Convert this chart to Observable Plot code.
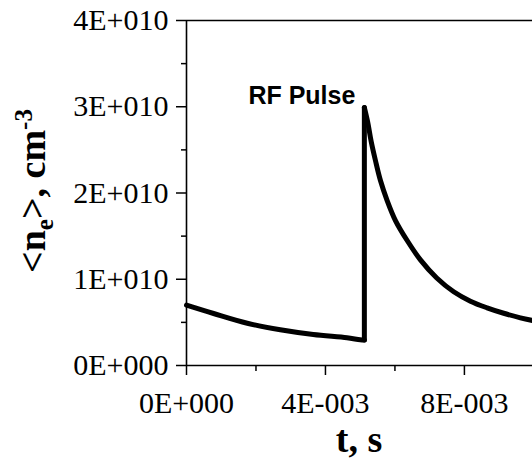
<!DOCTYPE html>
<html>
<head>
<meta charset="utf-8">
<script src="https://cdn.jsdelivr.net/npm/d3@7"></script>
<script src="https://cdn.jsdelivr.net/npm/@observablehq/plot@0.6"></script>
<style>
  html, body { margin: 0; padding: 0; background: #fff; }
</style>
</head>
<body>
<div id="chart"></div>
<script>
// ---- data ----
// before the RF pulse (t in s, <ne> in cm^-3)
const tPre = [0, 0.00078, 0.00175, 0.0027, 0.00365, 0.00462, 0.005, 0.00512];
const nPre = [7.0e9, 6.03e9, 4.9e9, 4.14e9, 3.59e9, 3.21e9, 2.98e9, 2.95e9];
// the jump at the RF pulse
const tJump = [0.00512, 0.00512];
const nJump = [2.95e9, 2.99e10];
// decay after the pulse
const tPost = [0.00512, 0.005217, 0.005315, 0.005439, 0.005583, 0.005776, 0.006015, 0.006352,
               0.006734, 0.007204, 0.007692, 0.008173, 0.008653, 0.009131, 0.009612, 0.009957];
const nPost = [2.99e10, 2.82e10, 2.60e10, 2.377e10, 2.145e10, 1.913e10, 1.681e10, 1.449e10,
               1.225e10, 1.015e10, 0.855e10, 0.746e10, 0.669e10, 0.606e10, 0.553e10, 0.522e10];

// axes
const xDomain = [0, 0.00996];
const yDomain = [0, 4e10];
const xTicks = [0, 0.004, 0.008];
const xTickLabels = ["0E+000", "4E-003", "8E-003"];
const xMinorTicks = [0.002, 0.006];
const yTicks = [0, 1e10, 2e10, 3e10, 4e10];
const yTickLabels = ["0E+000", "1E+010", "2E+010", "3E+010", "4E+010"];
const yMinorTicks = [0.5e10, 1.5e10, 2.5e10, 3.5e10];

const annotation = [{t: 0.00512, n: 2.99e10, label: "RF Pulse"}];

const toRows = (ts, ns) => ts.map((t, i) => ({t, n: ns[i]}));
const pre = toRows(tPre, nPre);
const jump = toRows(tJump, nJump);
const post = toRows(tPost, nPost);

const serif = "'Liberation Serif', 'Times New Roman', serif";

const chart = Plot.plot({
  width: 532,
  height: 459,
  marginLeft: 186,
  marginRight: 0,
  marginTop: 20,
  marginBottom: 94,
  style: {fontFamily: serif, fontSize: "30px", color: "#000", background: "#fff"},
  x: {domain: xDomain, axis: null},
  y: {domain: yDomain, axis: null},
  marks: [
    // frame: top and right
    Plot.ruleY([yDomain[1]], {stroke: "#000", strokeWidth: 1.3}),
    Plot.ruleX([xDomain[1]], {stroke: "#000", strokeWidth: 1}),
    // axis lines
    Plot.ruleX([0], {stroke: "#000", strokeWidth: 1.6}),
    Plot.ruleY([0], {stroke: "#000", strokeWidth: 1.6}),
    // major ticks + labels
    Plot.axisX({ticks: xTicks, tickFormat: (d) => xTickLabels[xTicks.indexOf(d)], tickSize: 10, tickPadding: 16, fontSize: 30, fontFamily: serif, strokeWidth: 1.5, label: null}),
    Plot.axisY({ticks: yTicks, tickFormat: (d) => yTickLabels[yTicks.indexOf(d)], tickSize: 10, tickPadding: 8, fontSize: 30, fontFamily: serif, strokeWidth: 1.5, label: null}),
    // minor ticks
    Plot.axisX({ticks: xMinorTicks, tickFormat: () => "", tickSize: 6, strokeWidth: 1.5, label: null}),
    Plot.axisY({ticks: yMinorTicks, tickFormat: () => "", tickSize: 5, strokeWidth: 1.5, label: null}),
    // the curve
    Plot.line(pre, {x: "t", y: "n", curve: "catmull-rom", stroke: "#000", strokeWidth: 5, strokeLinecap: "round"}),
    Plot.line(jump, {x: "t", y: "n", stroke: "#000", strokeWidth: 5, strokeLinecap: "round"}),
    Plot.line(post, {x: "t", y: "n", curve: "catmull-rom", stroke: "#000", strokeWidth: 5, strokeLinecap: "round", strokeLinejoin: "round"}),
    // annotation
    Plot.text(annotation, {x: "t", y: "n", text: "label", textAnchor: "end", lineAnchor: "bottom", dx: -9, dy: -4, fontFamily: "'Liberation Sans', Arial, sans-serif", fontWeight: "bold", fontSize: 25, fill: "#000"})
  ]
});

const svg = d3.select(chart);
// x title
svg.append("text")
  .attr("x", 359).attr("y", 452)
  .attr("text-anchor", "middle")
  .attr("font-family", serif).attr("font-weight", "bold").attr("font-size", 38)
  .attr("fill", "#000")
  .text("t, s");
// y title with subscript and superscript
const yt = svg.append("text")
  .attr("transform", "translate(45,191) rotate(-90)")
  .attr("text-anchor", "middle")
  .attr("font-family", serif).attr("font-weight", "bold").attr("font-size", 38)
  .attr("fill", "#000");
yt.append("tspan").text("<n");
yt.append("tspan").attr("font-size", 25).attr("dy", 8).text("e");
yt.append("tspan").attr("dy", -8).text(">, cm");
yt.append("tspan").attr("font-size", 25).attr("dy", -13).text("-3");

document.getElementById("chart").appendChild(chart);
</script>
</body>
</html>
